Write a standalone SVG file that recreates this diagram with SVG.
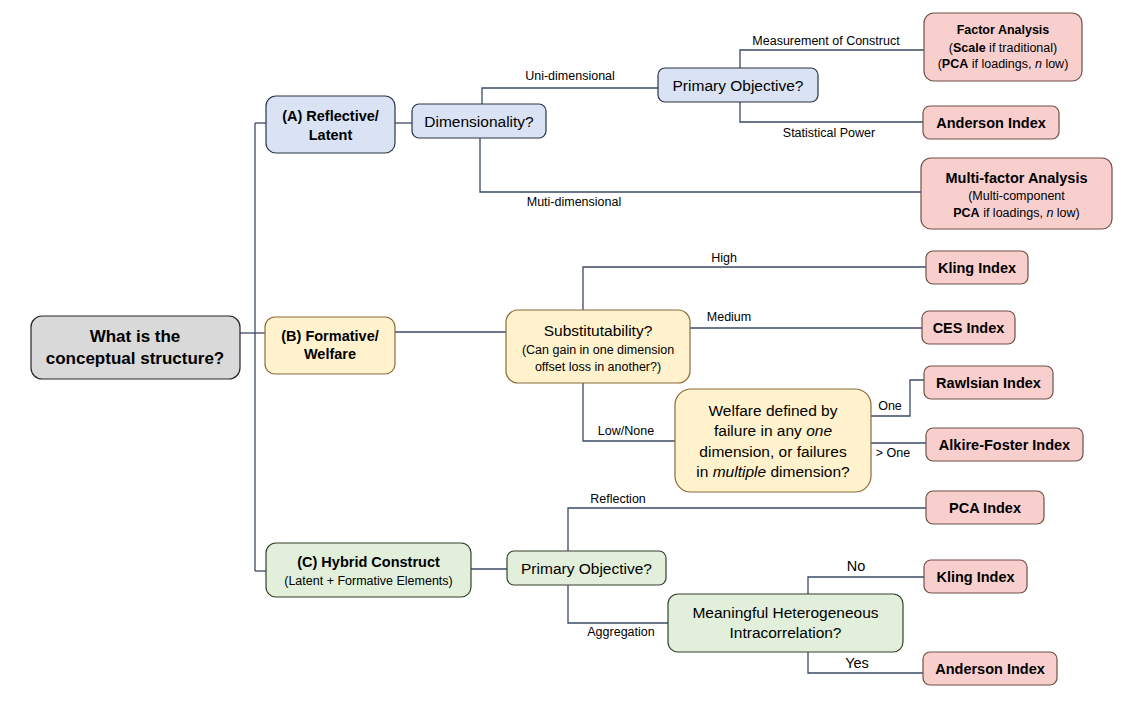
<svg xmlns="http://www.w3.org/2000/svg" width="1126" height="702" viewBox="0 0 1126 702">
<style>
text{font-family:"Liberation Sans",Arial,sans-serif;fill:#000;text-anchor:middle}
.t{font-size:15.5px}
.tb{font-size:14.5px;font-weight:bold}
.s{font-size:12.5px}
.l{font-size:12.5px}
.gray{fill:#d9d9d9;stroke:#262626;stroke-width:1.2}
.blue{fill:#dae3f3;stroke:#2b3445;stroke-width:1.2}
.yel{fill:#fff2cc;stroke:#8c6a3a;stroke-width:1.2}
.grn{fill:#e2efda;stroke:#34402d;stroke-width:1.2}
.pink{fill:#f9cfce;stroke:#6e5147;stroke-width:1.2}
.c path{fill:none;stroke:#3b4a66;stroke-width:1.3}
</style>
<rect width="1126" height="702" fill="#fff"/>
<g class="c" id="connectors">
<path d="M240,333 H265"/>
<path d="M255,123 V571"/>
<path d="M255,123 H266"/>
<path d="M255,571 H266"/>
<path d="M395,123 H412"/>
<path d="M482,104 V88 H658"/>
<path d="M480,138 V192 H921"/>
<path d="M740,68 V50 H924"/>
<path d="M740,102 V122 H923"/>
<path d="M395,332 H506"/>
<path d="M583,310 V267 H926"/>
<path d="M690,328 H922"/>
<path d="M583,383 V441 H675"/>
<path d="M871,416 H910 V380 H924"/>
<path d="M871,443 H926"/>
<path d="M471,569 H507"/>
<path d="M568,551 V508 H926"/>
<path d="M568,585 V623 H668"/>
<path d="M808,594 V577 H924"/>
<path d="M808,652 V673 H923"/>
</g>
<g id="edge-labels">
<text class="l" x="570" y="80">Uni-dimensional</text>
<text class="l" x="574" y="206">Muti-dimensional</text>
<text class="l" x="826" y="45">Measurement of Construct</text>
<text class="l" x="829" y="137">Statistical Power</text>
<text class="l" x="724" y="262">High</text>
<text class="l" x="729" y="321">Medium</text>
<text class="l" x="626" y="435">Low/None</text>
<text class="l" x="890" y="410">One</text>
<text class="l" x="893" y="457">&gt; One</text>
<text class="l" x="618" y="503">Reflection</text>
<text class="l" x="621" y="636">Aggregation</text>
<text x="856" y="571" style="font-size:14.5px">No</text>
<text x="857" y="668" style="font-size:14.5px">Yes</text>
</g>
<g id="root">
<rect class="gray" x="31" y="316" width="209" height="63" rx="11"/>
<text x="135" y="342" style="font-size:17px;font-weight:bold">What is the</text>
<text x="135" y="364" style="font-size:17px;font-weight:bold">conceptual structure?</text>
</g>
<g id="nodeA">
<rect class="blue" x="266" y="96" width="129" height="57" rx="10"/>
<text class="tb" x="330.5" y="121">(A) Reflective/</text>
<text class="tb" x="330.5" y="140">Latent</text>
</g>
<g id="dimensionality">
<rect class="blue" x="412" y="104" width="134" height="34" rx="7"/>
<text class="t" x="479" y="126.5">Dimensionality?</text>
</g>
<g id="objectiveA">
<rect class="blue" x="658" y="68" width="160" height="34" rx="7"/>
<text class="t" x="738" y="90.5">Primary Objective?</text>
</g>
<g id="factor">
<rect class="pink" x="924" y="13" width="158" height="68" rx="10"/>
<text class="s" x="1003" y="34" style="font-weight:bold">Factor Analysis</text>
<text class="s" x="1003" y="52">(<tspan font-weight="bold">Scale</tspan> if traditional)</text>
<text class="s" x="1003" y="68">(<tspan font-weight="bold">PCA</tspan> if loadings, <tspan font-style="italic">n</tspan> low)</text>
</g>
<g id="andersonA">
<rect class="pink" x="923" y="106" width="136" height="33" rx="7"/>
<text class="tb" x="991" y="128">Anderson Index</text>
</g>
<g id="multifactor">
<rect class="pink" x="921" y="158" width="191" height="71" rx="10"/>
<text class="tb" x="1016.5" y="183">Multi-factor Analysis</text>
<text class="s" x="1016.5" y="200">(Multi-component</text>
<text class="s" x="1016.5" y="217"><tspan font-weight="bold">PCA</tspan> if loadings, <tspan font-style="italic">n</tspan> low)</text>
</g>
<g id="nodeB">
<rect class="yel" x="265" y="317" width="130" height="57" rx="10"/>
<text class="tb" x="330" y="341">(B) Formative/</text>
<text class="tb" x="330" y="359">Welfare</text>
</g>
<g id="substitutability">
<rect class="yel" x="506" y="310" width="184" height="73" rx="12"/>
<text class="t" x="598" y="336">Substitutability?</text>
<text class="s" x="598" y="353.5">(Can gain in one dimension</text>
<text class="s" x="598" y="371">offset loss in another?)</text>
</g>
<g id="klingB">
<rect class="pink" x="926" y="251" width="102" height="33" rx="7"/>
<text class="tb" x="977" y="273">Kling Index</text>
</g>
<g id="ces">
<rect class="pink" x="922" y="311" width="93" height="33" rx="7"/>
<text class="tb" x="968.5" y="333">CES Index</text>
</g>
<g id="welfare">
<rect class="yel" x="675" y="389" width="196" height="103" rx="16"/>
<text class="t" x="773" y="415.5">Welfare defined by</text>
<text class="t" x="773" y="436">failure in any <tspan font-style="italic">one</tspan></text>
<text class="t" x="773" y="456.5">dimension, or failures</text>
<text class="t" x="773" y="476.5">in <tspan font-style="italic">multiple</tspan> dimension?</text>
</g>
<g id="rawlsian">
<rect class="pink" x="924" y="366" width="129" height="33" rx="7"/>
<text class="tb" x="988.5" y="388">Rawlsian Index</text>
</g>
<g id="alkire">
<rect class="pink" x="926" y="428" width="157" height="33" rx="7"/>
<text class="tb" x="1004.5" y="450">Alkire-Foster Index</text>
</g>
<g id="nodeC">
<rect class="grn" x="266" y="543" width="205" height="54" rx="10"/>
<text x="368.5" y="567" style="font-size:14.5px;font-weight:bold">(C) Hybrid Construct</text>
<text class="s" x="368.5" y="584.5">(Latent + Formative Elements)</text>
</g>
<g id="objectiveC">
<rect class="grn" x="507" y="551" width="159" height="34" rx="7"/>
<text class="t" x="586.5" y="573.5">Primary Objective?</text>
</g>
<g id="pca">
<rect class="pink" x="926" y="491" width="118" height="33" rx="7"/>
<text class="tb" x="985" y="513">PCA Index</text>
</g>
<g id="meaningful">
<rect class="grn" x="668" y="594" width="235" height="58" rx="10"/>
<text class="t" x="785.5" y="617.5">Meaningful Heterogeneous</text>
<text class="t" x="785.5" y="637.5">Intracorrelation?</text>
</g>
<g id="klingC">
<rect class="pink" x="924" y="560" width="103" height="33" rx="7"/>
<text class="tb" x="975.5" y="582">Kling Index</text>
</g>
<g id="andersonC">
<rect class="pink" x="923" y="652" width="134" height="33" rx="7"/>
<text class="tb" x="990" y="674">Anderson Index</text>
</g>
</svg>
